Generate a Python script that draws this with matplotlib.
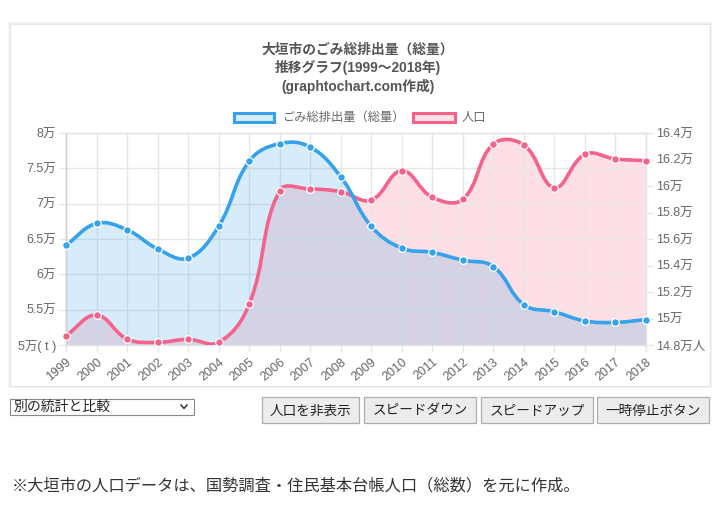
import numpy as np
import matplotlib
matplotlib.use('Agg')
import matplotlib.pyplot as plt
from matplotlib.path import Path
from matplotlib.patches import PathPatch, Rectangle, FancyBboxPatch
from matplotlib.transforms import Affine2D
from matplotlib.ticker import FuncFormatter, MultipleLocator
from matplotlib.lines import Line2D

plt.rcParams['font.family'] = ['Liberation Sans', 'Noto Sans CJK JP']

W, H = 720, 512

# ── Data ──────────────────────────────────────────────────────────────────────
YEARS = list(range(1999, 2019))
GARBAGE = [64100, 67200, 66300, 63600, 62300, 66800, 76000, 78500, 78000, 73800,
           66800, 63700, 63100, 62000, 61100, 55700, 54700, 53400, 53200, 53600]
POPULATION = [148700, 150260, 148450, 148200, 148430, 148200, 151070, 159650, 159770, 159570,
              158940, 161160, 159150, 159000, 163170, 163090, 159870, 162390, 162040, 161910]

TITLE = '大垣市のごみ総排出量（総量）\n推移グラフ(1999～2018年)\n(graphtochart.com作成)'
LABEL_GARBAGE = 'ごみ総排出量（総量）'
LABEL_POP = '人口'
LEFT_LIM = (50000, 80000)
RIGHT_LIM = (148000, 164000)
BUTTONS = ['人口を非表示', 'スピードダウン', 'スピードアップ', '一時停止ボタン']
SELECT_TEXT = '別の統計と比較'
NOTE = '※大垣市の人口データは、国勢調査・住民基本台帳人口（総数）を元に作成。'

BLUE = '#36a2eb'
BLUE_FILL = (54/255, 162/255, 235/255, 0.2)
PINK = '#f5628a'
PINK_FILL = (255/255, 99/255, 132/255, 0.2)
GRID = '#e6e6e6'
TXT = '#666666'


# ── Helpers ───────────────────────────────────────────────────────────────────

def smooth_path(ax, xs, ys, tension=0.4):
    """Bezier path through the points (same idea as Chart.js line tension)."""
    pts = ax.transData.transform(np.column_stack([xs, ys]))
    n = len(pts)
    prev_cp, next_cp = [], []
    for i in range(n):
        p0 = pts[max(i - 1, 0)]
        p1 = pts[i]
        p2 = pts[min(i + 1, n - 1)]
        d01 = np.hypot(*(p1 - p0))
        d12 = np.hypot(*(p2 - p1))
        tot = d01 + d12
        s01 = d01 / tot if tot else 0
        s12 = d12 / tot if tot else 0
        prev_cp.append(p1 - tension * s01 * (p2 - p0))
        next_cp.append(p1 + tension * s12 * (p2 - p0))
    verts = [pts[0]]
    codes = [Path.MOVETO]
    for i in range(n - 1):
        verts += [next_cp[i], prev_cp[i + 1], pts[i + 1]]
        codes += [Path.CURVE4] * 3
    verts = ax.transData.inverted().transform(np.array(verts))
    return verts, codes


def draw_fill(ax, xs, ys, fill_color, base, z):
    verts, codes = smooth_path(ax, xs, ys)
    fill_verts = np.vstack([verts, [[xs[-1], base], [xs[0], base], [xs[0], base]]])
    fill_codes = codes + [Path.LINETO, Path.LINETO, Path.CLOSEPOLY]
    ax.add_patch(PathPatch(Path(fill_verts, fill_codes), facecolor=fill_color,
                           edgecolor='none', zorder=z))


def draw_line(host, src, xs, ys, line_color, z):
    # drawn in `host` axes but using the data scale of `src`
    verts, codes = smooth_path(src, xs, ys)
    host.add_patch(PathPatch(Path(verts, codes), facecolor='none', edgecolor=line_color,
                             linewidth=2.6, capstyle='round', zorder=z,
                             transform=src.transData))
    host.plot(xs, ys, linestyle='none', marker='o', markersize=5.5,
              markerfacecolor=line_color, markeredgecolor='white', markeredgewidth=0.9,
              zorder=z + 0.5, clip_on=False, transform=src.transData)


def man_fmt(suffix_at, suffix):
    def f(v, pos):
        s = f'{v / 10000:g}万'
        if abs(v - suffix_at) < 1:
            s += suffix
        return s
    return FuncFormatter(f)


# ── Figure ────────────────────────────────────────────────────────────────────

fig = plt.figure(figsize=(W / 100, H / 100), dpi=100)
fig.patch.set_facecolor('white')
px = Affine2D().scale(1 / W, -1 / H).translate(0, 1) + fig.transFigure

# card with soft shadow
fig.patches.append(Rectangle((8, 22), 704, 366, transform=px, facecolor='#f3f3f3',
                             edgecolor='none', zorder=0))
fig.patches.append(Rectangle((10, 24), 700, 362, transform=px, facecolor='white',
                             edgecolor='#e4e4e4', linewidth=0.8, zorder=0.5))

ax = fig.add_axes([66 / W, 1 - 345 / H, 580 / W, 212 / H])
ax2 = ax.twinx()
ax.set_zorder(2)
ax.patch.set_visible(False)
ax2.set_zorder(1)

ax.set_xlim(YEARS[0], YEARS[-1])
ax.set_ylim(*LEFT_LIM)
ax2.set_ylim(*RIGHT_LIM)

ax.yaxis.set_major_locator(MultipleLocator(5000))
ax2.yaxis.set_major_locator(MultipleLocator(2000))
ax.yaxis.set_major_formatter(man_fmt(LEFT_LIM[0], '( t )'))
ax2.yaxis.set_major_formatter(man_fmt(RIGHT_LIM[0], '人'))
ax.set_xticks(YEARS)
ax.set_xticklabels([str(y) for y in YEARS], rotation=40, ha='right',
                   rotation_mode='anchor')

for a in (ax, ax2):
    for s in a.spines.values():
        s.set_color(GRID)
        s.set_linewidth(1)
    a.tick_params(colors=GRID, labelcolor=TXT, labelsize=9, length=5, width=1, pad=2)
ax.spines['left'].set_color('#cfcfcf')
ax.tick_params(axis='x', pad=3)

ax.grid(True, color=GRID, linewidth=1)
ax.set_axisbelow(True)

fig.canvas.draw()

# fills first, then the lines on top of both fills
draw_fill(ax2, YEARS, POPULATION, PINK_FILL, RIGHT_LIM[0], 1)
draw_fill(ax, YEARS, GARBAGE, BLUE_FILL, LEFT_LIM[0], 1)
draw_line(ax, ax2, YEARS, POPULATION, PINK, 3)
draw_line(ax, ax, YEARS, GARBAGE, BLUE, 4)

# title
fig.text(358, 68, TITLE, transform=px, ha='center', va='center', fontsize=9.9,
         fontweight='bold', color='#555555', linespacing=1.3)

# legend
fig.patches.append(Rectangle((234, 113), 40, 9, transform=px, facecolor='#d7ecfb',
                             edgecolor=BLUE, linewidth=2.2))
fig.text(282, 117.5, LABEL_GARBAGE, transform=px, ha='left', va='center',
         fontsize=8.8, color=TXT)
fig.patches.append(Rectangle((413, 113), 42, 9, transform=px, facecolor='#ffe0e6',
                             edgecolor=PINK, linewidth=2.2))
fig.text(462, 117.5, LABEL_POP, transform=px, ha='left', va='center',
         fontsize=8.8, color=TXT)

# controls under the chart
fig.patches.append(Rectangle((10, 399), 184, 16, transform=px, facecolor='white',
                             edgecolor='#8a8a8a', linewidth=0.8))
fig.text(14, 407, SELECT_TEXT, transform=px, ha='left', va='center',
         fontsize=10, color='#222222')
fig.lines.append(Line2D([181, 184, 187], [405, 408.5, 405], transform=px,
                        color='#333333', linewidth=1.1))

button_x = [(262, 359), (364, 476), (481, 593), (597, 709)]
for (x0, x1), label in zip(button_x, BUTTONS):
    fig.patches.append(FancyBboxPatch((x0, 397), x1 - x0, 26, transform=px,
                                      boxstyle='square,pad=0', facecolor='#ececec',
                                      edgecolor='#adadad', linewidth=0.9))
    fig.text((x0 + x1) / 2, 410.5, label, transform=px, ha='center', va='center',
             fontsize=9.8, color='#222222')

fig.text(12, 486, NOTE, transform=px, ha='left', va='center', fontsize=11.7,
         color='#333333')

plt.savefig('out.png', dpi=100)
